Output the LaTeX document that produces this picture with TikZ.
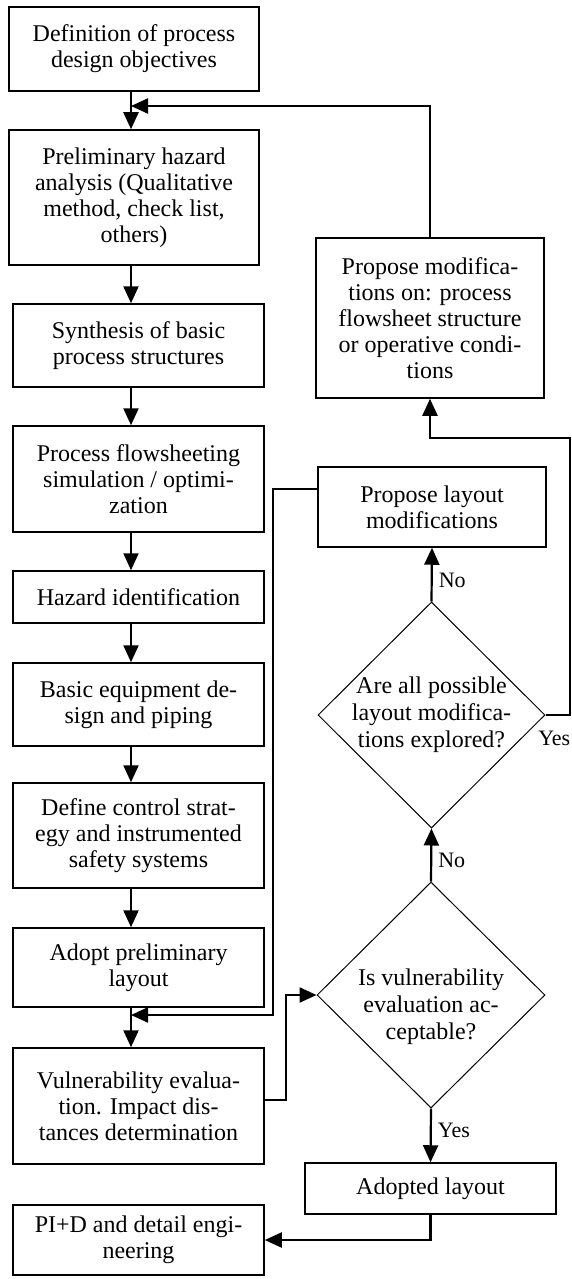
\documentclass[tikz,border=0pt]{standalone}
\usepackage{fontspec}
\setmainfont{Liberation Serif}
\usetikzlibrary{shapes.geometric,arrows.meta}
\begin{document}
\begin{tikzpicture}[x=1pt,y=-1pt,
  box/.style={draw, line width=1.5pt, rectangle, inner sep=0pt, align=center,
    font=\fontsize{24}{26}\selectfont},
  dia/.style={draw, line width=1pt, diamond, inner sep=0pt},
  dtext/.style={align=center, font=\fontsize{24}{27}\selectfont},
  arr/.style={line width=2.2pt, -{Triangle[length=17pt,width=15pt]}},
  lab/.style={font=\fontsize{22}{24}\selectfont, inner sep=0pt}]
\useasboundingbox (0,0) rectangle (571,1279);
% left column
\node[box, minimum width=250pt, minimum height=84pt] (b1) at (134,49) {Definition of process\\design objectives};
\node[box, minimum width=250pt, minimum height=135pt] (b2) at (134,197.5) {Preliminary hazard\\analysis (Qualitative\\method, check list,\\others)};
\node[box, minimum width=251pt, minimum height=83pt] (b3) at (138.5,345.5) {Synthesis of basic\\process structures};
\node[box, minimum width=251pt, minimum height=106pt] (b4) at (138.5,479) {Process flowsheeting\\simulation / optimi-\\zation};
\node[box, minimum width=251pt, minimum height=52pt] (b5) at (138.5,597) {Hazard identification};
\node[box, minimum width=251pt, minimum height=83pt] (b6) at (138.5,704.5) {Basic equipment de-\\sign and piping};
\node[box, minimum width=251pt, minimum height=105pt] (b7) at (138.5,835.5) {Define control strat-\\egy and instrumented\\safety systems};
\node[box, minimum width=251pt, minimum height=79pt] (b8) at (138.5,967.5) {Adopt preliminary\\layout};
\node[box, minimum width=251pt, minimum height=116pt] (b9) at (138.5,1106) {Vulnerability evalua-\\tion. Impact dis-\\tances determination};
\node[box, minimum width=251pt, minimum height=70pt] (b10) at (138.5,1240) {PI+D and detail engi-\\neering};
% right column
\node[box, minimum width=228pt, minimum height=160pt] (pm) at (430,318) {Propose modifica-\\tions on: process\\flowsheet structure\\or operative condi-\\tions};
\node[box, minimum width=228pt, minimum height=80pt] (pl) at (432,507) {Propose layout\\modifications};
\node[dia, minimum width=227pt, minimum height=226pt] (d1) at (431.5,715) {};
\node[dtext] (d1t) at (431.5,715) {Are all possible\\layout modifica-\\tions explored?};
\node[dia, minimum width=228pt, minimum height=226pt] (d2) at (431,995) {};
\node[dtext] (d2t) at (431,1007) {Is vulnerability\\evaluation ac-\\ceptable?};
\node[box, minimum width=251pt, minimum height=51pt] (al) at (430.5,1188.5) {Adopted layout};
% helper coordinates
\coordinate (spine) at (131,0);
\coordinate (m1) at (131,106);
\coordinate (m2) at (131,1015);
\coordinate (rail1) at (273,1015);
\coordinate (r3) at (570,438);
% main chain
\draw[arr] (b1.south -| spine) -- (b2.north -| spine);
\draw[arr] (b2.south -| spine) -- (b3.north -| spine);
\draw[arr] (b3.south -| spine) -- (b4.north -| spine);
\draw[arr] (b4.south -| spine) -- (b5.north -| spine);
\draw[arr] (b5.south -| spine) -- (b6.north -| spine);
\draw[arr] (b6.south -| spine) -- (b7.north -| spine);
\draw[arr] (b7.south -| spine) -- (b8.north -| spine);
\draw[arr] (b8.south -| spine) -- (b9.north -| spine);
% feedback loops
\draw[arr] (pm.north) |- (m1);
\draw[arr] ([yshift=18pt]pl.west) -| (rail1) -- (m2);
\draw[arr] ([yshift=6pt]b9.east) -- ++(21,0) |- (d2.west);
\draw[arr] (d2.south) -- node[lab, right=6pt, pos=0.4] {Yes} (al.north);
\draw[arr] (al.south) |- (b10.east);
\draw[arr] (d2.north) -- node[lab, right=6pt, pos=0.4] {No} (d1.south);
\draw[arr] (d1.north) -- node[lab, right=6pt, pos=0.4] {No} (pl.south);
\draw[arr] (d1.east) -| (r3) -| (pm.south);
\node[lab, anchor=east] (yes1) at (570.5,738) {Yes};
\end{tikzpicture}
\end{document}
